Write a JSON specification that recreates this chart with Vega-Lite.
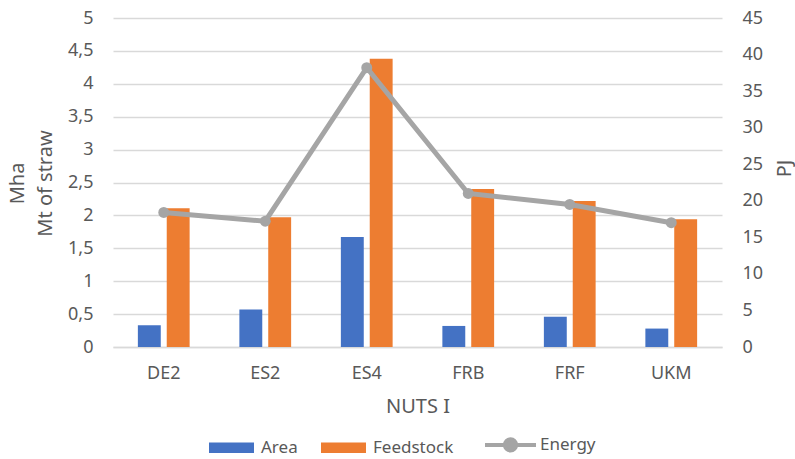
{
  "$schema": "https://vega.github.io/schema/vega-lite/v6.json",
  "width": 609,
  "height": 329,
  "autosize": {"type": "none"},
  "padding": {"left": 113, "top": 18, "right": 73, "bottom": 112},
  "background": "white",
  "config": {
    "font": "Noto Sans",
    "view": {"stroke": null},
    "axis": {
      "labelColor": "#595959",
      "titleColor": "#595959",
      "labelFontSize": 18,
      "titleFontWeight": "normal",
      "ticks": false,
      "domain": false
    }
  },
  "data": {
    "values": [
      {"nuts": "DE2", "series": "Area", "value": 0.33},
      {"nuts": "DE2", "series": "Feedstock", "value": 2.11},
      {"nuts": "DE2", "series": "Energy", "value": 18.4},
      {"nuts": "ES2", "series": "Area", "value": 0.57},
      {"nuts": "ES2", "series": "Feedstock", "value": 1.97},
      {"nuts": "ES2", "series": "Energy", "value": 17.2},
      {"nuts": "ES4", "series": "Area", "value": 1.67},
      {"nuts": "ES4", "series": "Feedstock", "value": 4.38},
      {"nuts": "ES4", "series": "Energy", "value": 38.2},
      {"nuts": "FRB", "series": "Area", "value": 0.32},
      {"nuts": "FRB", "series": "Feedstock", "value": 2.4},
      {"nuts": "FRB", "series": "Energy", "value": 21.0},
      {"nuts": "FRF", "series": "Area", "value": 0.46},
      {"nuts": "FRF", "series": "Feedstock", "value": 2.22},
      {"nuts": "FRF", "series": "Energy", "value": 19.5},
      {"nuts": "UKM", "series": "Area", "value": 0.28},
      {"nuts": "UKM", "series": "Feedstock", "value": 1.94},
      {"nuts": "UKM", "series": "Energy", "value": 17.0}
    ]
  },
  "encoding": {
    "x": {
      "field": "nuts",
      "type": "nominal",
      "sort": null,
      "scale": {"paddingInner": 0.49, "paddingOuter": 0.245},
      "axis": {
        "title": "NUTS I",
        "titleFontSize": 20,
        "titlePadding": 14,
        "labelAngle": 0,
        "labelPadding": 17,
        "domain": true,
        "domainColor": "#D9D9D9",
        "domainWidth": 1.5
      }
    },
    "color": {
      "field": "series",
      "type": "nominal",
      "scale": {
        "domain": ["Area", "Feedstock", "Energy"],
        "range": ["#4472C4", "#ED7D31", "#A5A5A5"]
      },
      "legend": {
        "title": null,
        "orient": "none",
        "direction": "horizontal",
        "legendX": 96,
        "legendY": 418,
        "labelFontSize": 17,
        "labelColor": "#595959",
        "columnPadding": 23,
        "encode": {
          "symbols": {
            "update": {
              "shape": {"signal": "datum.value === 'Energy' ? 'M-1,0H1M-0.22,0A0.22,0.22 0 1,0 0.22,0A0.22,0.22 0 1,0 -0.22,0Z' : 'M-1,-0.23H1V0.23H-1Z'"},
              "size": {"signal": "datum.value === 'Energy' ? 2600 : 2025"},
              "x": {"signal": "datum.value === 'Energy' ? 25.5 : 22.5"},
              "fill": {"signal": "scale('color', datum.value)"},
              "stroke": {"signal": "scale('color', datum.value)"},
              "strokeWidth": {"signal": "datum.value === 'Energy' ? 4 : 0"},
              "opacity": {"value": 1},
              "fillOpacity": {"value": 1}
            }
          },
          "labels": {
            "update": {
              "x": {"signal": "datum.value === 'Energy' ? 55 : 52"}
            }
          }
        }
      }
    }
  },
  "layer": [
    {
      "transform": [{"filter": "datum.series !== 'Energy'"}],
      "mark": {"type": "bar"},
      "encoding": {
        "xOffset": {
          "field": "series",
          "type": "nominal",
          "sort": ["Area", "Feedstock"],
          "scale": {"paddingInner": 0.207, "paddingOuter": 0}
        },
        "y": {
          "field": "value",
          "type": "quantitative",
          "scale": {"domain": [0, 5], "nice": false},
          "axis": {
            "orient": "left",
            "values": [0, 0.5, 1, 1.5, 2, 2.5, 3, 3.5, 4, 4.5, 5],
            "labelExpr": "replace(format(datum.value, '~g'), '.', ',')",
            "labelPadding": 20,
            "grid": true,
            "gridColor": "#D9D9D9",
            "gridWidth": 1.5,
            "title": ["Mha", "Mt of straw"],
            "titleFontSize": 20,
            "titleLineHeight": 28,
            "titleAngle": 270,
            "titleAlign": "center",
            "titleBaseline": "middle",
            "titleX": -96,
            "titleY": 165
          }
        }
      }
    },
    {
      "transform": [{"filter": "datum.series === 'Energy'"}],
      "mark": {"type": "line", "strokeWidth": 5, "point": {"filled": true, "size": 120}},
      "encoding": {
        "y": {
          "field": "value",
          "type": "quantitative",
          "scale": {"domain": [0, 45], "nice": false},
          "axis": {
            "orient": "right",
            "values": [0, 5, 10, 15, 20, 25, 30, 35, 40, 45],
            "labelPadding": 20,
            "grid": false,
            "title": "PJ",
            "titleFontSize": 20,
            "titleAngle": 270,
            "titleAlign": "center",
            "titleBaseline": "middle",
            "titleX": 62,
            "titleY": 150
          }
        }
      }
    }
  ],
  "resolve": {"scale": {"y": "independent"}}
}
